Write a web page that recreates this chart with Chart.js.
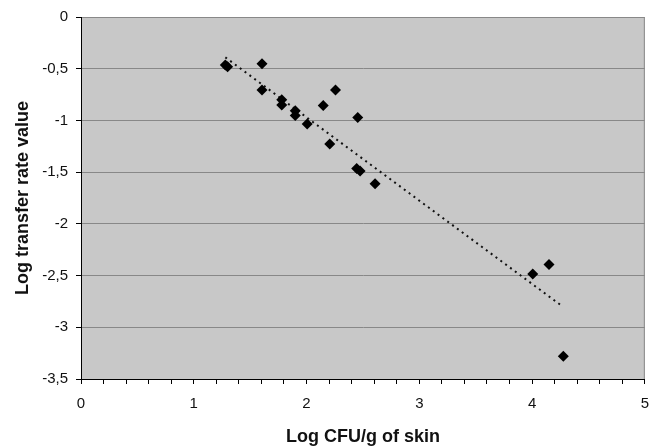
<!DOCTYPE html>
<html>
<head>
<meta charset="utf-8">
<script src="https://cdn.jsdelivr.net/npm/chart.js@4/dist/chart.umd.min.js"></script>
<style>
  body { margin: 0; background: #fff; }
  #wrap { width: 660px; height: 448px; }
</style>
</head>
<body>
<div id="wrap"><canvas id="scatter-chart"></canvas></div>
<script>
// values
var cfuX = [1.28, 1.30, 1.605, 1.605, 1.78, 1.78, 1.90, 1.90, 2.006, 2.148, 2.257, 2.454,
            2.206, 2.445, 2.475, 2.608, 4.006, 4.15, 4.277];
var transferY = [-0.465, -0.48, -0.452, -0.705, -0.80, -0.85, -0.907, -0.952, -1.035, -0.856, -0.705, -0.971,
                 -1.228, -1.465, -1.49, -1.612, -2.484, -2.394, -3.279];
// dotted trend line ends
var trendX = [1.28, 4.26];
var trendY = [-0.39, -2.79];

var points = cfuX.map(function (x, i) { return { x: x, y: transferY[i] }; });
var trend = trendX.map(function (x, i) { return { x: x, y: trendY[i] }; });

function comma(v) {
  return String(Math.round(v * 10) / 10).replace('.', ',');
}

var plotBackground = {
  id: 'plotBackground',
  beforeDraw: function (chart) {
    var a = chart.chartArea, ctx = chart.ctx;
    ctx.save();
    ctx.fillStyle = '#c8c8c8';
    ctx.fillRect(a.left, a.top, a.right - a.left, a.bottom - a.top);
    ctx.strokeStyle = '#888';
    ctx.lineWidth = 1;
    ctx.beginPath();
    ctx.moveTo(a.left, a.top + 0.5);
    ctx.lineTo(a.right - 0.5, a.top + 0.5);
    ctx.lineTo(a.right - 0.5, a.bottom);
    ctx.stroke();
    ctx.restore();
  }
};

var font = { family: '"Liberation Sans", Arial, sans-serif', size: 15 };
var titleFont = { family: '"Liberation Sans", Arial, sans-serif', size: 18, weight: 'bold' };

new Chart(document.getElementById('scatter-chart'), {
  type: 'scatter',
  data: {
    datasets: [{
      data: points,
      pointStyle: 'rectRot',
      pointRadius: 5.5,
      backgroundColor: '#000',
      borderColor: '#000',
      borderWidth: 0
    }, {
      data: trend,
      showLine: true,
      pointRadius: 0,
      borderColor: '#111',
      borderWidth: 2,
      borderDash: [2, 4],
      fill: false
    }]
  },
  options: {
    responsive: true,
    maintainAspectRatio: false,
    animation: false,
    layout: { padding: { left: 0, right: 14, top: 15, bottom: 0 } },
    plugins: { legend: { display: false }, tooltip: { enabled: false } },
    scales: {
      x: {
        type: 'linear',
        min: 0,
        max: 5,
        afterFit: function (s) { s.height = 69; },
        border: { color: '#000', width: 1 },
        grid: { drawOnChartArea: false, tickLength: 5, tickColor: '#000' },
        ticks: {
          stepSize: 0.2,
          autoSkip: false,
          maxRotation: 0,
          padding: 11,
          color: '#111',
          font: font,
          callback: function (v) {
            return Math.abs(v - Math.round(v)) < 1e-6 ? String(Math.round(v)) : '';
          }
        },
        title: { display: true, text: 'Log CFU/g of skin', color: '#111', font: titleFont, padding: { top: 0, bottom: 0 } }
      },
      y: {
        min: -3.5,
        max: 0,
        afterFit: function (s) { s.width = 81; },
        border: { color: '#000', width: 1 },
        grid: { color: '#888', tickLength: 5, tickColor: '#000' },
        ticks: {
          stepSize: 0.5,
          padding: 8,
          color: '#111',
          font: font,
          callback: function (v) { return comma(v); }
        },
        title: { display: true, text: 'Log transfer rate value', color: '#111', font: titleFont, padding: { top: 12, bottom: 0 } }
      }
    }
  },
  plugins: [plotBackground]
});
</script>
</body>
</html>
